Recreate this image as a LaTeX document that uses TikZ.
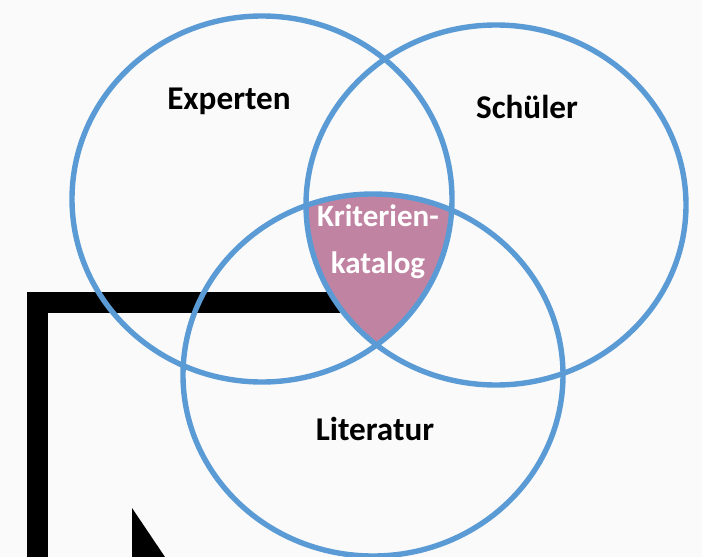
\documentclass[tikz,border=0pt]{standalone}
\usepackage{fontspec}
\setmainfont{Carlito}
\usepackage{tikz}
\usetikzlibrary{positioning}
\definecolor{ringblue}{RGB}{91,155,213}
\definecolor{lensfill}{RGB}{192,132,162}
\definecolor{bgpaper}{RGB}{250,250,250}

\begin{document}
\begin{tikzpicture}[x=0.5pt,y=-0.5pt,
ring/.style={draw=ringblue, line width=2.7pt},
label/.style={font=\bfseries\fontsize{16.6}{19}\selectfont, text=black},
lenslabel/.style={font=\bfseries\fontsize{15.5}{23.5}\selectfont, text=white, align=center},
]
%Background
\fill[bgpaper] (0,0) rectangle (702,557);
\useasboundingbox (0,0) rectangle (702,557);
\fill[black] (27,292) rectangle (340,313);
\fill[black] (27,292) rectangle (48,557);
\fill[black] (132,508) -- (165,557) -- (132,557) -- cycle;

%Lens
\begin{scope}
\clip (262,199) ellipse [x radius=190, y radius=183];
\clip (496,205) ellipse [x radius=190, y radius=180];
\fill[lensfill] (373,375) ellipse [x radius=190, y radius=181];
\end{scope}

%Rings
\draw[ring] (262,199) ellipse [x radius=190, y radius=183];
\draw[ring] (496,205) ellipse [x radius=190, y radius=180];
\draw[ring] (373,375) ellipse [x radius=190, y radius=181];

%Nodes
\node[label]     (experten)  at (229,101) {Experten};
\node[label]     (schueler)  at (527,107) {Schüler};
\node[label]     (literatur) at (375,429) {Literatur};
\node[lenslabel] (katalog)   at (378,242) {Kriterien-\\katalog};
\end{tikzpicture}
\end{document}
